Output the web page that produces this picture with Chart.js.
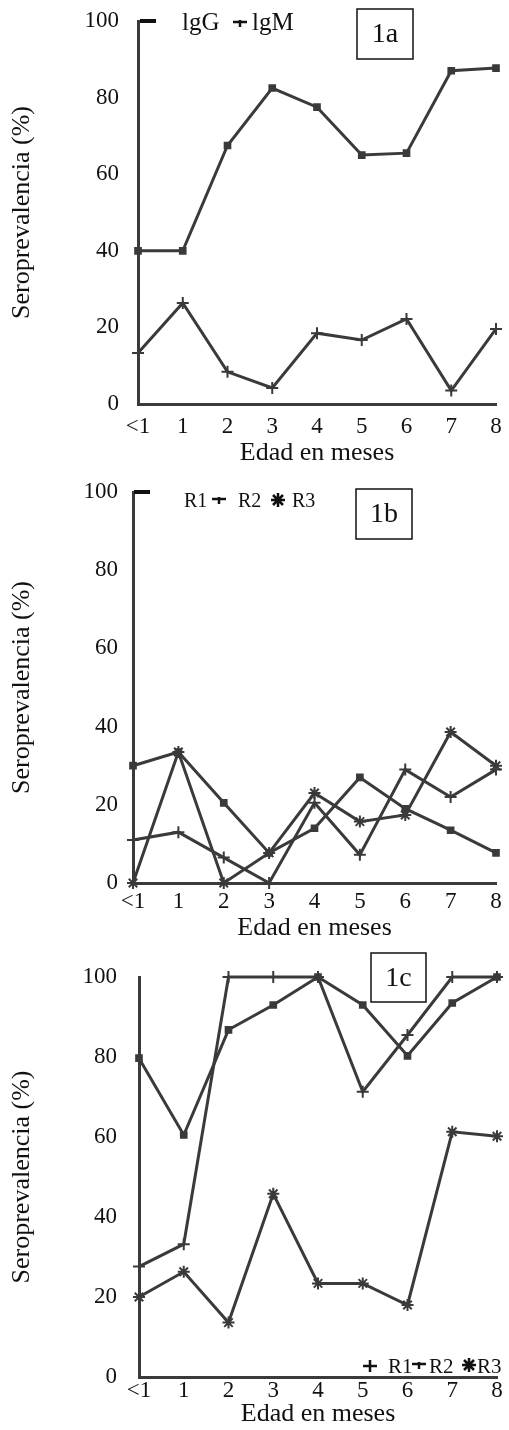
<!DOCTYPE html>
<html>
<head>
<meta charset="utf-8">
<script src="https://cdn.jsdelivr.net/npm/chart.js@4.4.0/dist/chart.umd.min.js"></script>
<style>
html, body { margin: 0; padding: 0; background: #fff; }
#wrap { position: relative; width: 509px; height: 1430px; }
canvas { position: absolute; left: 0; }
</style>
</head>
<body>
<div id="wrap">
  <canvas id="g1a" width="509" height="470" style="top:0px"></canvas>
  <canvas id="g1b" width="509" height="475" style="top:470px"></canvas>
  <canvas id="g1c" width="509" height="485" style="top:945px"></canvas>
</div>
<script>
// categorias (edad en meses)
var meses = ['<1', '1', '2', '3', '4', '5', '6', '7', '8'];

// figura 1a
var igG = [40, 40, 67.5, 82.5, 77.5, 65, 65.5, 87, 87.7];
var igM = [13.3, 26.4, 8.4, 4.2, 18.5, 16.7, 22.2, 3.5, 19.6];

// figura 1b
var r1b = [30, 33.5, 20.5, 7.7, 14, 27, 19, 13.5, 7.7];
var r2b = [11, 13, 6.5, 0, 20.5, 7.2, 29, 22, 29];
var r3b = [0, 33.5, 0, 7.7, 23, 15.7, 17.4, 38.6, 30];

// figura 1c
var r1c = [27.6, 33.2, 100, 100, 100, 71.3, 85.5, 100, 100];
var r2c = [79.7, 60.5, 86.8, 93, 100, 93, 80.3, 93.5, 100];
var r3c = [20, 26.3, 13.6, 45.8, 23.4, 23.4, 18, 61.3, 60.2];

var COR = '#3a3a3a';
var TXT = '#111';
var FONTE = '"Liberation Serif", "Times New Roman", serif';

function marcador(ctx, tipo, x, y) {
    ctx.strokeStyle = TXT;
    ctx.fillStyle = TXT;
    ctx.lineWidth = 2.5;
    ctx.beginPath();
    if (tipo == 'dash') {
        ctx.fillRect(x - 8, y - 2, 16, 4);
    } else if (tipo == 'gancho') {
        ctx.moveTo(x - 7, y); ctx.lineTo(x + 7, y);
        ctx.moveTo(x, y - 2); ctx.lineTo(x, y + 5);
    } else if (tipo == 'cruz') {
        ctx.moveTo(x - 7, y); ctx.lineTo(x + 7, y);
        ctx.moveTo(x, y - 6); ctx.lineTo(x, y + 6);
    } else if (tipo == 'aster') {
        ctx.moveTo(x - 7, y); ctx.lineTo(x + 7, y);
        ctx.moveTo(x, y - 7); ctx.lineTo(x, y + 7);
        ctx.moveTo(x - 5, y - 5); ctx.lineTo(x + 5, y + 5);
        ctx.moveTo(x - 5, y + 5); ctx.lineTo(x + 5, y - 5);
    }
    ctx.stroke();
}

var decor = {
    id: 'decor',
    afterDraw: function(chart, args, opts) {
        var ctx = chart.ctx;
        var b = opts.box;
        ctx.save();
        ctx.strokeStyle = TXT;
        ctx.lineWidth = 1.5;
        ctx.strokeRect(b.x, b.y, b.w, b.h);
        ctx.fillStyle = TXT;
        ctx.font = '28px ' + FONTE;
        ctx.textAlign = 'center';
        ctx.textBaseline = 'middle';
        ctx.fillText(b.text, b.x + b.w / 2, b.y + b.h / 2 + 1);

        ctx.textAlign = 'left';
        ctx.font = opts.tam + 'px ' + FONTE;
        opts.itens.forEach(function(it, i) {
            marcador(ctx, it.m, it.mx, it.my);
            ctx.fillStyle = TXT;
            ctx.fillText(chart.data.datasets[i].label, it.tx, it.ty);
        });
        ctx.restore();
    }
};

function painel(id, series, cfg) {
    var ctx = document.getElementById(id);
    return new Chart(ctx, {
        type: 'line',
        data: {
            labels: meses,
            datasets: series.map(function(s) {
                return {
                    label: s.label,
                    data: s.data,
                    borderColor: COR,
                    backgroundColor: COR,
                    borderWidth: 3,
                    pointStyle: s.ponto,
                    pointRadius: s.raio,
                    pointBorderWidth: 2,
                    tension: 0,
                    clip: false
                };
            })
        },
        options: {
            responsive: false,
            animation: false,
            layout: { padding: { left: 0, right: cfg.dir, top: cfg.topo, bottom: 0 } },
            plugins: {
                legend: { display: false },
                tooltip: { enabled: false },
                decor: cfg.decor
            },
            scales: {
                x: {
                    offset: false,
                    grid: { display: false, drawTicks: false },
                    border: { display: true, color: COR, width: 3 },
                    ticks: { color: TXT, font: { family: FONTE, size: 23 }, padding: cfg.xPad, maxRotation: 0, autoSkip: false },
                    title: { display: true, text: 'Edad en meses', color: TXT, font: { family: FONTE, size: 26 }, padding: { top: 0, bottom: cfg.xTit } },
                    afterFit: function(a) { a.height = cfg.xAlt; a.paddingLeft = 0; a.paddingRight = 0; }
                },
                y: {
                    min: 0,
                    max: 100,
                    grid: { display: false, drawTicks: false },
                    border: { display: true, color: COR, width: 3 },
                    ticks: { stepSize: 20, color: TXT, font: { family: FONTE, size: 23 }, padding: cfg.yPad },
                    title: { display: true, text: 'Seroprevalencia (%)', color: TXT, font: { family: FONTE, size: 26 }, padding: { top: 7, bottom: 0 } },
                    afterFit: function(a) { a.width = cfg.yLarg; a.paddingTop = 0; a.paddingBottom = 0; }
                }
            }
        },
        plugins: [decor]
    });
}

painel('g1a', [
    { label: 'lgG', data: igG, ponto: 'rect', raio: 4 },
    { label: 'lgM', data: igM, ponto: 'cross', raio: 6 }
], {
    dir: 13, topo: 21, yLarg: 138, yPad: 19, xAlt: 66, xPad: 9, xTit: 1,
    decor: {
        box: { x: 357, y: 9, w: 56, h: 50, text: '1a' },
        tam: 25,
        itens: [
            { m: 'dash', mx: 148, my: 21, tx: 182, ty: 23 },
            { m: 'gancho', mx: 240, my: 22, tx: 252, ty: 23 }
        ]
    }
});

painel('g1b', [
    { label: 'R1', data: r1b, ponto: 'rect', raio: 4 },
    { label: 'R2', data: r2b, ponto: 'cross', raio: 6 },
    { label: 'R3', data: r3b, ponto: 'star', raio: 6 }
], {
    dir: 13, topo: 22, yLarg: 133, yPad: 15, xAlt: 62, xPad: 5, xTit: 1,
    decor: {
        box: { x: 356, y: 19, w: 56, h: 50, text: '1b' },
        tam: 20,
        itens: [
            { m: 'dash', mx: 142, my: 22, tx: 184, ty: 32 },
            { m: 'gancho', mx: 219, my: 29, tx: 238, ty: 32 },
            { m: 'aster', mx: 278, my: 30, tx: 292, ty: 32 }
        ]
    }
});

painel('g1c', [
    { label: 'R1', data: r1c, ponto: 'cross', raio: 6 },
    { label: 'R2', data: r2c, ponto: 'rect', raio: 4 },
    { label: 'R3', data: r3c, ponto: 'star', raio: 6 }
], {
    dir: 12, topo: 32, yLarg: 139, yPad: 22, xAlt: 53, xPad: 0, xTit: 0,
    decor: {
        box: { x: 371, y: 8, w: 55, h: 49, text: '1c' },
        tam: 21,
        itens: [
            { m: 'cruz', mx: 370, my: 421, tx: 388, ty: 422 },
            { m: 'gancho', mx: 419, my: 419, tx: 429, ty: 422 },
            { m: 'aster', mx: 469, my: 420, tx: 477, ty: 422 }
        ]
    }
});
</script>
</body>
</html>
